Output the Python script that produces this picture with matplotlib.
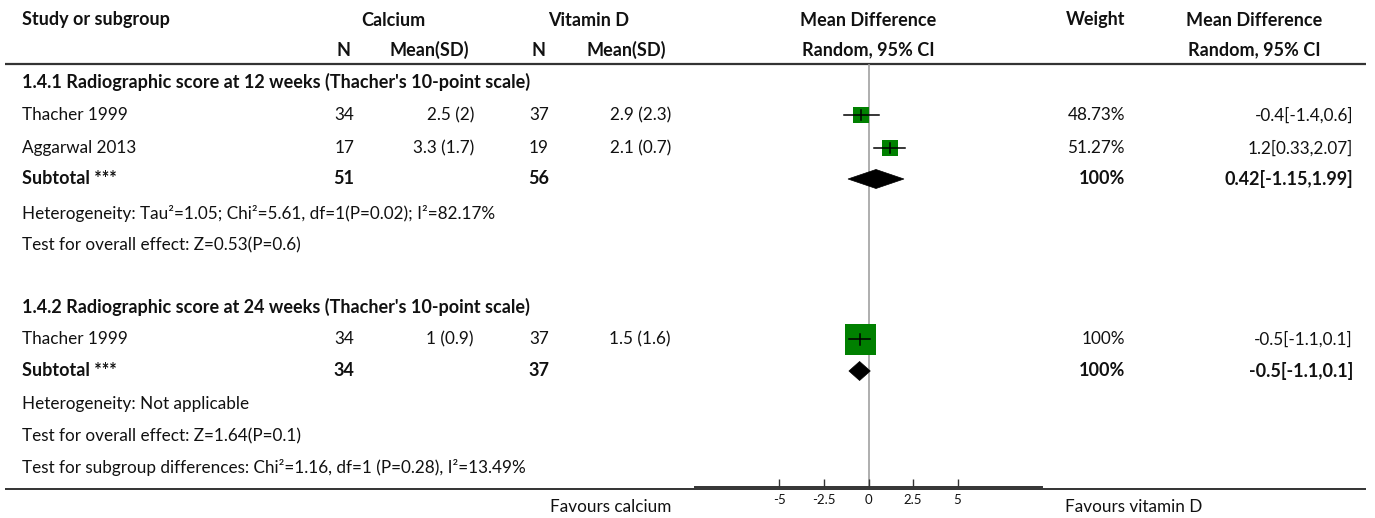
import matplotlib
matplotlib.use("Agg")
import matplotlib.pyplot as plt
from matplotlib.patches import Polygon

plt.rcParams['font.family'] = ['Lato', 'DejaVu Sans']

# ---- data ----
studies_g1 = ["Thacher 1999", "Aggarwal 2013"]
calc_n_g1 = [34, 17]
calc_msd_g1 = ["2.5 (2)", "3.3 (1.7)"]
vitd_n_g1 = [37, 19]
vitd_msd_g1 = ["2.9 (2.3)", "2.1 (0.7)"]
md_g1 = [-0.4, 1.2]
lo_g1 = [-1.4, 0.33]
hi_g1 = [0.6, 2.07]
weight_g1 = [48.73, 51.27]
sub_g1 = (0.42, -1.15, 1.99)
sub_n_g1 = (51, 56)

studies_g2 = ["Thacher 1999"]
calc_n_g2 = [34]
calc_msd_g2 = ["1 (0.9)"]
vitd_n_g2 = [37]
vitd_msd_g2 = ["1.5 (1.6)"]
md_g2 = [-0.5]
lo_g2 = [-1.1]
hi_g2 = [0.1]
weight_g2 = [100.0]
sub_g2 = (-0.5, -1.1, 0.1)
sub_n_g2 = (34, 37)

ticks = [-5, -2.5, 0, 2.5, 5]
tick_labels = ["-5", "-2.5", "0", "2.5", "5"]

W, H = 1375, 518
DPI = 100
fig = plt.figure(figsize=(W / DPI, H / DPI), dpi=DPI)

# text/table layer in pixel units
ax = fig.add_axes([0, 0, 1, 1])
ax.set_xlim(0, W)
ax.set_ylim(H, 0)
ax.axis("off")

TXT = "#111111"
FS_REG = 12.3
FS_BOLD = 13.0


def t(x, y, s, ha="left", bold=False, **kw):
    ax.text(x, y, s, ha=ha, va="center", fontsize=FS_BOLD if bold else FS_REG,
            color=TXT, fontweight="bold" if bold else "normal", **kw)


# column anchors (px)
X_LABEL = 22
X_CN, X_CM, X_VN, X_VM = 354, 474, 549, 671
X_WT, X_CI = 1125, 1353
X_ZERO_L, X_ZERO_R = 695, 1042

# header
t(X_LABEL, 20, "Study or subgroup", bold=True)
t(393, 20, "Calcium", ha="center", bold=True)
t(589, 20, "Vitamin D", ha="center", bold=True)
t(868, 20, "Mean Difference", ha="center", bold=True)
t(1096, 20, "Weight", ha="center", bold=True)
t(1254, 20, "Mean Difference", ha="center", bold=True)
t(351, 50, "N", ha="right", bold=True)
t(469, 50, "Mean(SD)", ha="right", bold=True)
t(546, 50, "N", ha="right", bold=True)
t(666, 50, "Mean(SD)", ha="right", bold=True)
t(868, 50, "Random, 95% CI", ha="center", bold=True)
t(1254, 50, "Random, 95% CI", ha="center", bold=True)

ax.plot([5, 1366], [64, 64], color="#333333", lw=1.6, solid_capstyle="butt")
ax.plot([5, 1366], [488.5, 488.5], color="#333333", lw=1.4, solid_capstyle="butt")

# forest layer: x in mean-difference units, y in px rows
fax = fig.add_axes([X_ZERO_L / W, (H - 487) / H, (X_ZERO_R - X_ZERO_L) / W, (487 - 64) / H])
fax.set_xlim(-9.74, 9.74)
fax.set_ylim(487, 64)
fax.patch.set_alpha(0)
for s in ["top", "left", "right"]:
    fax.spines[s].set_visible(False)
fax.spines["bottom"].set_color("#333333")
fax.spines["bottom"].set_linewidth(1.4)
fax.set_yticks([])
fax.set_xticks(ticks)
fax.set_xticklabels(tick_labels, fontsize=9.5, color=TXT)
fax.tick_params(axis="x", direction="in", length=6, width=1, color="#333333", pad=5)
fax.axvline(0, color="#999999", lw=1.1, zorder=1)

px_per_pt = DPI / 72.0


def study_row(y, label, cn, cm, vn, vm, md, lo, hi, wt):
    t(X_LABEL, y, label)
    t(X_CN, y, str(cn), ha="right")
    t(X_CM, y, cm, ha="right")
    t(X_VN, y, str(vn), ha="right")
    t(X_VM, y, vm, ha="right")
    t(X_WT, y, f"{wt:g}%", ha="right")
    t(X_CI, y, f"{md:g}[{lo:g},{hi:g}]", ha="right")
    side_px = 1 + 30 * wt / 100.0
    fax.plot([md], [y], marker="s", markersize=side_px / px_per_pt,
             color="#008000", mec="#008000", mew=0, zorder=3, linestyle="none")
    fax.plot([lo, hi], [y, y], color="black", lw=1.1, zorder=4)
    half = 4 + 1.5 * wt / 100.0
    fax.plot([md, md], [y - half, y + half], color="black", lw=1.1, zorder=4)


def subtotal_row(y, n_c, n_v, est):
    md, lo, hi = est
    t(X_LABEL, y, "Subtotal ***", bold=True)
    t(X_CN, y, str(n_c), ha="right", bold=True)
    t(X_VN, y, str(n_v), ha="right", bold=True)
    t(X_WT, y, "100%", ha="right", bold=True)
    t(X_CI, y, f"{md:g}[{lo:g},{hi:g}]", ha="right", bold=True)
    hh = 9.5
    fax.add_patch(Polygon([(lo, y), (md, y - hh), (hi, y), (md, y + hh)],
                          closed=True, facecolor="black", edgecolor="black",
                          lw=0.5, zorder=3))


# group 1
t(X_LABEL, 82, "1.4.1 Radiographic score at 12 weeks (Thacher's 10-point scale)", bold=True)
for i, y in enumerate([115, 148]):
    study_row(y, studies_g1[i], calc_n_g1[i], calc_msd_g1[i], vitd_n_g1[i],
              vitd_msd_g1[i], md_g1[i], lo_g1[i], hi_g1[i], weight_g1[i])
subtotal_row(179, sub_n_g1[0], sub_n_g1[1], sub_g1)
t(X_LABEL, 213, "Heterogeneity: Tau²=1.05; Chi²=5.61, df=1(P=0.02); I²=82.17%")
t(X_LABEL, 245, "Test for overall effect: Z=0.53(P=0.6)")

# group 2
t(X_LABEL, 307, "1.4.2 Radiographic score at 24 weeks (Thacher's 10-point scale)", bold=True)
study_row(339, studies_g2[0], calc_n_g2[0], calc_msd_g2[0], vitd_n_g2[0],
          vitd_msd_g2[0], md_g2[0], lo_g2[0], hi_g2[0], weight_g2[0])
subtotal_row(371, sub_n_g2[0], sub_n_g2[1], sub_g2)
t(X_LABEL, 404, "Heterogeneity: Not applicable")
t(X_LABEL, 436, "Test for overall effect: Z=1.64(P=0.1)")
t(X_LABEL, 468, "Test for subgroup differences: Chi²=1.16, df=1 (P=0.28), I²=13.49%")

# footer
t(671, 507, "Favours calcium", ha="right")
t(1065, 507, "Favours vitamin D", ha="left")

fig.savefig("out.png", dpi=DPI)
